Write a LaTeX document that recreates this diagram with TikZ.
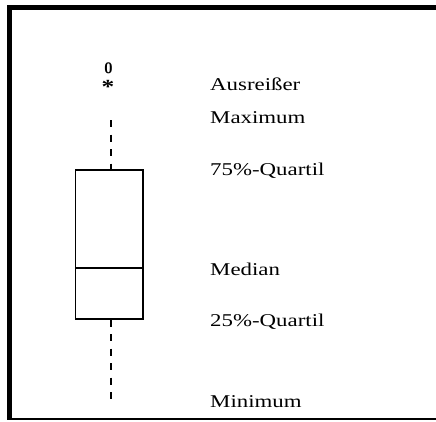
\documentclass[tikz,border=0pt]{standalone}
\usepackage{fontspec}
\setmainfont{Liberation Serif}[FakeStretch=1.27]
\begin{document}
\begin{tikzpicture}[x=1pt,y=-1pt,
  lbl/.style={anchor=base west,inner sep=0pt,font=\fontsize{18}{20}\selectfont},
  boxline/.style={line width=1.4pt},
  whisk/.style={line width=1.7pt,dash pattern=on 7pt off 7.5pt}]
\useasboundingbox (0,0) rectangle (436,421);
% frame
\fill[black] (7,5) rectangle (436,10);
\fill[black] (7,5) rectangle (12,420);
\fill[black] (12,418) rectangle (436,420);
% box
\node[draw,boxline,minimum width=67.5pt,minimum height=149pt,inner sep=0pt] (box) at (109.3,244.5) {};
\coordinate (medL) at (75.5,268);
\coordinate (medR) at (143.1,268);
\draw[boxline] (medL) -- (medR);
\coordinate (max) at (110.7,120);
\coordinate (min) at (110.7,399);
\draw[whisk] (max) -- (max |- box.north);
\draw[whisk] (min |- box.south) -- (min);
% outliers
\node[inner sep=0pt,font=\fontsize{15}{15}\selectfont\bfseries\sffamily] (out0) at (108.5,68) {0};
\node[inner sep=0pt,font=\fontsize{20}{20}\selectfont\bfseries] (outast) at (108,87) {*};
% labels
\node[lbl] (l1) at (210,90) {Ausreißer};
\node[lbl] (l2) at (210,123) {Maximum};
\node[lbl] (l3) at (210,175) {75\%-Quartil};
\node[lbl] (l4) at (210,275) {Median};
\node[lbl] (l5) at (210,326) {25\%-Quartil};
\node[lbl] (l6) at (210,407) {Minimum};
\end{tikzpicture}
\end{document}
